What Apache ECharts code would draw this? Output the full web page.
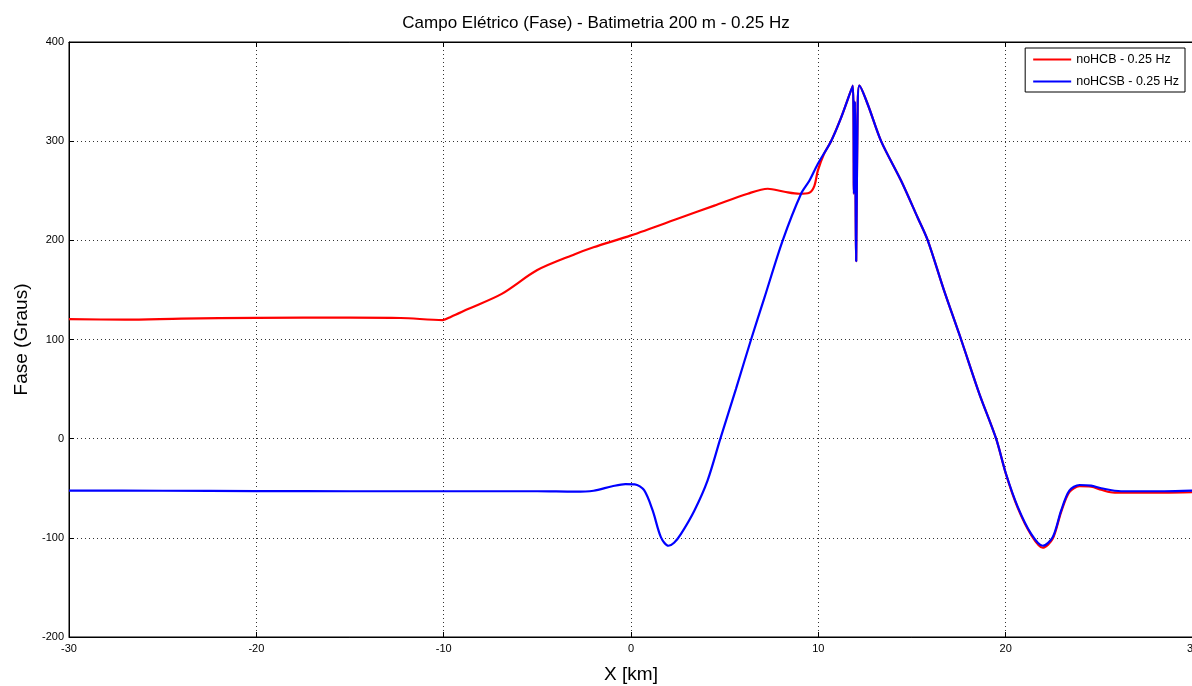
<!DOCTYPE html>
<html>
<head>
<meta charset="utf-8">
<title>Campo Elétrico (Fase)</title>
<script src="https://cdn.jsdelivr.net/npm/echarts@6/dist/echarts.min.js"></script>
<style>
  html, body { margin: 0; padding: 0; background: #fff; }
  #chart { width: 1192px; height: 686px; }
</style>
</head>
<body>
<div id="chart"></div>
<script>
// Axis ticks
const xTicks = [-30, -20, -10, 0, 10, 20, 30];
const yTicks = [-200, -100, 0, 100, 200, 300, 400];

// noHCB - 0.25 Hz : positions (km) and phase (degrees)
const noHCB_x = [-30, -27, -24, -20, -15, -12.3, -10.05, -9.6, -8.7, -6.9, -5, -3, -2, 0, 2.67, 4.45, 6.23, 7.3, 8.19, 8.99, 9.52, 9.79, 9.97, 10.3,
  10.68, 11.2, 11.84, 11.9, 11.95, 12.02, 12.1, 12.19, 12.64, 13.35, 14.42, 15.3, 15.84, 16.7, 17.62, 18.6, 19.49, 20.02, 20.65, 21.36, 21.98, 22.51, 22.96, 23.4, 23.94, 24.56, 25.1, 25.6, 26.16, 28.46, 30];
const noHCB_y = [120.5, 120, 121, 121.8, 122, 121.7, 119.6, 123, 130.7, 146, 170, 186, 193, 205, 223, 235, 247, 252, 249, 247, 248, 255, 270, 287,
  300, 323, 356, 247, 340, 179, 335, 356, 337, 300, 260, 223, 200, 150, 100, 45, 0, -36, -70, -97, -110, -101, -74, -54, -48, -48.5, -51.5, -54, -54.5, -54.5, -54];

// noHCSB - 0.25 Hz : positions (km) and phase (degrees)
const noHCSB_x = [-30, -25, -20, -15, -10, -5, -3, -2, -1, -0.3, 0.2, 0.7, 1.16, 1.6, 2.0, 2.3, 2.67, 3.38, 4.09, 4.77, 5.6, 6.41, 7.12, 8.1, 9.08, 9.52, 9.97, 10.68, 11.2, 11.84,
  11.9, 11.95, 12.02, 12.1, 12.19, 12.64, 13.35, 14.42, 15.3, 15.84, 16.7, 17.62, 18.6, 19.49, 20.02, 20.65, 21.36, 21.98, 22.51, 22.96, 23.4, 23.94, 24.56, 25.1, 26.16, 28.46, 30];
const noHCSB_y = [-52.4, -52.5, -52.8, -53, -53, -53, -53.5, -52.5, -48, -45.8, -46, -52, -72.6, -99.5, -108, -105, -96, -72.6, -42, 0, 50, 100, 142, 200, 247, 260, 277, 300, 323, 356,
  247, 340, 179, 335, 356, 337, 300, 260, 223, 200, 150, 100, 45, 0, -35.6, -69, -96, -108, -99.5, -72.6, -52.4, -46.7, -47.4, -50, -53, -53, -52.4];

const pairs = (xs, ys) => xs.map((x, i) => [x, ys[i]]);

const FONT = 'Liberation Sans, Arial, Helvetica, sans-serif';

const chart = echarts.init(document.getElementById('chart'), null, { renderer: 'canvas' });

const dotted = { color: '#333', width: 1, type: [1, 3] };

chart.setOption({
  animation: false,
  backgroundColor: '#fff',
  title: {
    text: 'Campo Elétrico (Fase) - Batimetria 200 m - 0.25 Hz',
    left: 'center',
    top: 10,
    textStyle: { fontFamily: FONT, fontSize: 17, fontWeight: 'normal', color: '#000' }
  },
  legend: {
    orient: 'vertical',
    right: 7,
    top: 48,
    padding: [5, 6, 4, 8],
    itemGap: 9,
    itemWidth: 38,
    itemHeight: 2,
    icon: 'rect',
    borderColor: '#000',
    borderWidth: 1,
    backgroundColor: '#fff',
    textStyle: { fontFamily: FONT, fontSize: 12.5, color: '#000' },
    data: ['noHCB - 0.25 Hz', 'noHCSB - 0.25 Hz']
  },
  grid: {
    left: 69, right: -1, top: 42, bottom: 49,
    outerBoundsMode: 'none',
    containLabel: false,
    show: true, borderColor: '#000', borderWidth: 1
  },
  xAxis: [{
    type: 'value',
    min: xTicks[0], max: xTicks[xTicks.length - 1], interval: 10,
    name: 'X [km]',
    nameLocation: 'middle',
    nameGap: 28,
    nameTextStyle: { fontFamily: FONT, fontSize: 19, color: '#000' },
    axisLine: { show: true, onZero: false, lineStyle: { color: '#000', width: 1 } },
    axisTick: { show: true, inside: true, length: 5, lineStyle: { color: '#000' } },
    axisLabel: { fontFamily: FONT, fontSize: 11, color: '#000', margin: 6 },
    splitLine: { show: true, lineStyle: dotted }
  }, {
    type: 'value',
    position: 'top',
    min: xTicks[0], max: xTicks[xTicks.length - 1], interval: 10,
    axisLine: { show: true, onZero: false, lineStyle: { color: '#000', width: 1 } },
    axisTick: { show: true, inside: true, length: 5, lineStyle: { color: '#000' } },
    axisLabel: { show: false },
    splitLine: { show: false }
  }],
  yAxis: {
    type: 'value',
    min: yTicks[0], max: yTicks[yTicks.length - 1], interval: 100,
    name: 'Fase (Graus)',
    nameLocation: 'middle',
    nameGap: 38,
    nameTextStyle: { fontFamily: FONT, fontSize: 19, color: '#000' },
    axisLine: { show: true, onZero: false, lineStyle: { color: '#000', width: 1 } },
    axisTick: { show: true, inside: true, length: 5, lineStyle: { color: '#000' } },
    axisLabel: { fontFamily: FONT, fontSize: 11, color: '#000', margin: 5 },
    splitLine: { show: true, lineStyle: dotted }
  },
  series: [{
    name: 'noHCB - 0.25 Hz',
    type: 'line',
    data: pairs(noHCB_x, noHCB_y),
    showSymbol: false,
    smooth: 0.3,
    lineStyle: { color: '#ff0000', width: 2.2 },
    itemStyle: { color: '#ff0000' },
    z: 2
  }, {
    name: 'noHCSB - 0.25 Hz',
    type: 'line',
    data: pairs(noHCSB_x, noHCSB_y),
    showSymbol: false,
    smooth: 0.3,
    lineStyle: { color: '#0000ff', width: 2.2 },
    itemStyle: { color: '#0000ff' },
    z: 3
  }]
});
</script>
</body>
</html>
